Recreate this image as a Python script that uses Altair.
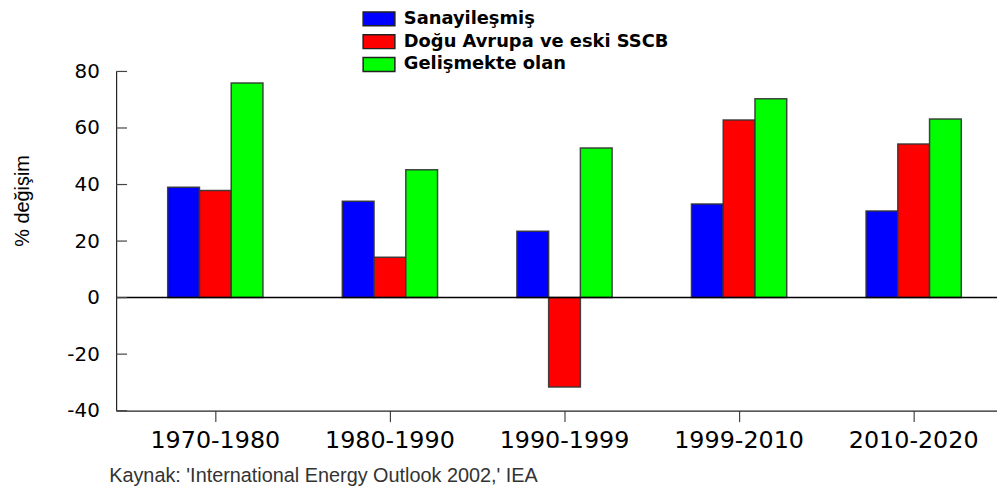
import altair as alt
import pandas as pd

periods = ["1970-1980", "1980-1990", "1990-1999", "1999-2010", "2010-2020"]
series = ["Sanayileşmiş", "Doğu Avrupa ve eski SSCB", "Gelişmekte olan"]
colors = ["#0000FF", "#FF0000", "#00FF00"]
sanayi = [39.0, 34.1, 23.5, 33.1, 30.6]
dogu = [37.9, 14.3, -31.6, 62.8, 54.3]
gelisen = [75.9, 45.2, 52.9, 70.3, 63.2]
y_ticks = [-40, -20, 0, 20, 40, 60, 80]
source_text = "Kaynak: 'International Energy Outlook 2002,' IEA"

rows = []
for i, p in enumerate(periods):
    for s, vals in zip(series, [sanayi, dogu, gelisen]):
        rows.append({"period": p, "series": s, "value": vals[i]})
df = pd.DataFrame(rows)

W, H = 888, 342

x_scale = alt.Scale(domain=periods, paddingInner=0.4545, paddingOuter=0.25, align=0.591)
y_scale = alt.Scale(domain=[-40, 80], nice=False, zero=False)

bars = alt.Chart(df).mark_bar(stroke="#333333", strokeWidth=1.5, strokeOpacity=0.9).encode(
    x=alt.X("period:N", scale=x_scale, sort=periods,
            axis=alt.Axis(title=None, labelFont="DejaVu Sans", labelFontSize=24, labelColor="#000000",
                          labelPadding=7, tickSize=11, tickColor="#444444", domainColor="#222222",
                          labelAngle=0, domainWidth=1.2, tickWidth=1.2)),
    xOffset=alt.XOffset("series:N", sort=series, scale=alt.Scale(domain=series, paddingInner=0, paddingOuter=0)),
    y=alt.Y("value:Q", scale=y_scale,
            axis=alt.Axis(values=y_ticks, title="% değişim", titleFont="Liberation Sans", titleFontSize=20,
                          titleFontWeight="normal", titleColor="#000000", titleAngle=270,
                          titleX=-94, titleY=130, titleAlign="center", titleBaseline="middle",
                          labelFont="DejaVu Sans", labelFontSize=20, labelColor="#000000",
                          labelExpr="'' + datum.value",
                          labelPadding=17, ticks=False, tickSize=0, grid=False,
                          domainColor="#222222", domainWidth=1.2)),
    color=alt.Color("series:N", sort=series, scale=alt.Scale(domain=series, range=colors),
                    legend=alt.Legend(title=None, orient="none", legendX=256, legendY=-62,
                                      symbolType="M-2,-0.875H2V0.875H-2Z", symbolSize=256,
                                      symbolStrokeColor="#222222", symbolStrokeWidth=1.5,
                                      symbolOpacity=1,
                                      labelFont="DejaVu Sans", labelFontSize=18, labelFontWeight="bold",
                                      labelColor="#000000", labelOffset=16, rowPadding=3, padding=0,
                                      labelLimit=500)),
)

tick_df = pd.DataFrame({"v": y_ticks})
inner_ticks = alt.Chart(tick_df).mark_rule(color="#444444", strokeWidth=1.2).encode(
    y=alt.Y("v:Q", scale=y_scale), x=alt.value(0), x2=alt.value(11)
)

zero_df = pd.DataFrame({"v": [0]})
zero_line = alt.Chart(zero_df).mark_rule(color="#000000", strokeWidth=1.5).encode(
    y=alt.Y("v:Q", scale=y_scale), x=alt.value(0), x2=alt.value(W)
)

src_df = pd.DataFrame({"t": [source_text]})
source = alt.Chart(src_df).mark_text(align="left", baseline="alphabetic", font="Liberation Sans",
                                     fontSize=20, color="#333333").encode(
    text="t:N", x=alt.value(-7), y=alt.value(414)
)

chart = alt.layer(bars, zero_line, inner_ticks, source).properties(
    width=W, height=H,
    autosize=alt.AutoSizeParams(type="none"),
    padding={"left": 109, "top": 62, "right": 0, "bottom": 80},
).configure_view(stroke=None)

chart.save("out.html", embed_options={"renderer": "svg", "actions": False})
